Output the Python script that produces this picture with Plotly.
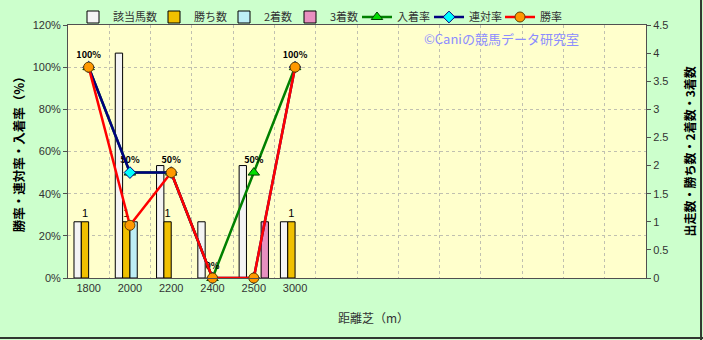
import plotly.graph_objects as go

distances = ["1800", "2000", "2200", "2400", "2500", "3000"]
n_slots = 14  # total category slots on the axis (extra empty ones on the right)
runners = [1, 4, 2, 1, 2, 1]
wins = [1, 1, 1, 0, 0, 1]
seconds = [0, 1, 0, 0, 0, 0]
thirds = [0, 0, 0, 0, 1, 0]
win_rate = [100, 25, 50, 0, 0, 100]
rentai_rate = [100, 50, 50, 0, 0, 100]
place_rate = [100, 50, 50, 0, 50, 100]

x = list(range(len(distances)))
JP = "Noto Sans CJK JP"
NUM = "Liberation Sans, Arial"

# legend text start positions (px) for each series, in trace order
legend_text_x = [116, 197, 267, 333, 400, 472, 543]


def nz(vals):
    return [v if v else None for v in vals]


fig = go.Figure()

bar_specs = [
    ("該当馬数", runners, "#f4f4f4", None),
    ("勝ち数", wins, "#f0c000", [str(v) if v else "" for v in wins]),
    ("2着数", seconds, "#bdeef5", None),
    ("3着数", thirds, "#e890c0", None),
]
lg = 0
for name, vals, col, txt in bar_specs:
    lg += 1
    fig.add_trace(go.Bar(
        x=x, y=nz(vals), name=name, yaxis="y",
        legend="legend" if lg == 1 else f"legend{lg}",
        marker=dict(color=col, line=dict(color="#000000", width=1)),
        text=txt, textposition="outside" if txt else None,
        textfont=dict(family=NUM, size=11, color="#000000"),
        cliponaxis=False,
    ))

fig.add_trace(go.Scatter(
    x=x, y=place_rate, name="入着率", yaxis="y2", legend="legend5",
    mode="lines+markers+text",
    line=dict(color="#008000", width=2.5),
    marker=dict(symbol="triangle-up", size=10, color="#00dd00", line=dict(color="#004000", width=1)),
    text=[f"{v}%" for v in place_rate], textposition="top center",
    textfont=dict(family=JP, size=9, color="#000000", weight="bold"),
    cliponaxis=False,
))
fig.add_trace(go.Scatter(
    x=x, y=rentai_rate, name="連対率", yaxis="y2", legend="legend6",
    mode="lines+markers",
    line=dict(color="#000080", width=2.5),
    marker=dict(symbol="diamond", size=9, color="#00ffff", line=dict(color="#000080", width=1)),
    cliponaxis=False,
))
fig.add_trace(go.Scatter(
    x=x, y=win_rate, name="勝率", yaxis="y2", legend="legend7",
    mode="lines+markers",
    line=dict(color="#ff0000", width=2.5),
    marker=dict(symbol="circle", size=10, color="#ff9900", line=dict(color="#604000", width=1)),
    cliponaxis=False,
))

legend_layout = {}
for i, tx in enumerate(legend_text_x):
    key = "legend" if i == 0 else f"legend{i + 1}"
    legend_layout[key] = dict(
        orientation="h", xref="container", yref="container",
        x=(tx - 43) / 703, y=1 - 17 / 340, xanchor="left", yanchor="middle",
        font=dict(family=JP, size=11, color="#333333"),
        bgcolor="rgba(0,0,0,0)", itemwidth=30, borderwidth=0,
    )

fig.update_layout(
    width=703, height=340,
    margin=dict(l=68, r=57, t=25, b=62, autoexpand=False),
    paper_bgcolor="#ccffcc",
    plot_bgcolor="#ffffcc",
    barmode="group", bargap=0.29, bargroupgap=0,
    showlegend=True,
    xaxis=dict(range=[-0.5, n_slots - 0.5], tickvals=x, ticktext=distances,
               showgrid=False, zeroline=False, ticks="",
               tickfont=dict(family=NUM, size=11, color="#333333"),
               showline=True, linecolor="#505050", linewidth=1, mirror=True,
               minor=dict(tickvals=[i + 0.5 for i in range(n_slots - 1)], showgrid=True,
                          gridcolor="#c0c0b0", griddash="dot", gridwidth=1, ticks="")),
    yaxis=dict(side="right", range=[0, 4.5], dtick=0.5, showgrid=False, zeroline=False,
               ticks="outside", ticklen=4, tickcolor="#505050",
               tickfont=dict(family=NUM, size=11, color="#333333"),
               showline=True, linecolor="#505050", linewidth=1),
    yaxis2=dict(side="left", overlaying="y", range=[0, 120], dtick=20, ticksuffix="%",
                showgrid=True, gridcolor="#c0c0b0", griddash="dot", zeroline=False,
                ticks="outside", ticklen=4, tickcolor="#505050",
                tickfont=dict(family=NUM, size=11, color="#333333"),
                showline=True, linecolor="#505050", linewidth=1),
    annotations=[
        dict(text="勝率・連対率・入着率（%）", xref="paper", yref="paper", x=-0.085, y=0.5,
             xanchor="center", yanchor="middle", textangle=-90, showarrow=False,
             font=dict(family=JP, size=12.5, color="#000000", weight="bold")),
        dict(text="出走数・勝ち数・2着数・3着数", xref="paper", yref="paper", x=1.076, y=0.5,
             xanchor="center", yanchor="middle", textangle=-90, showarrow=False,
             font=dict(family=JP, size=12, color="#000000", weight="bold")),
        dict(text="距離芝（m）", xref="paper", yref="paper", x=0.528, y=-0.155,
             xanchor="center", yanchor="middle", showarrow=False,
             font=dict(family=JP, size=12, color="#333333")),
        dict(text="©Caniの競馬データ研究室", xref="paper", yref="paper", x=0.75, y=0.945,
             xanchor="center", yanchor="middle", showarrow=False,
             font=dict(family=JP, size=13, color="#8c8cff")),
    ],
    shapes=[
        dict(type="line", xref="paper", yref="paper", x0=1.0952, x1=1.0952, y0=1.1, y1=-0.245,
             line=dict(color="#303830", width=2)),
        dict(type="line", xref="paper", yref="paper", x0=-0.3, x1=1.1, y0=-0.237, y1=-0.237,
             line=dict(color="#303830", width=2)),
    ],
    **legend_layout,
)

fig.write_html("out.html")
